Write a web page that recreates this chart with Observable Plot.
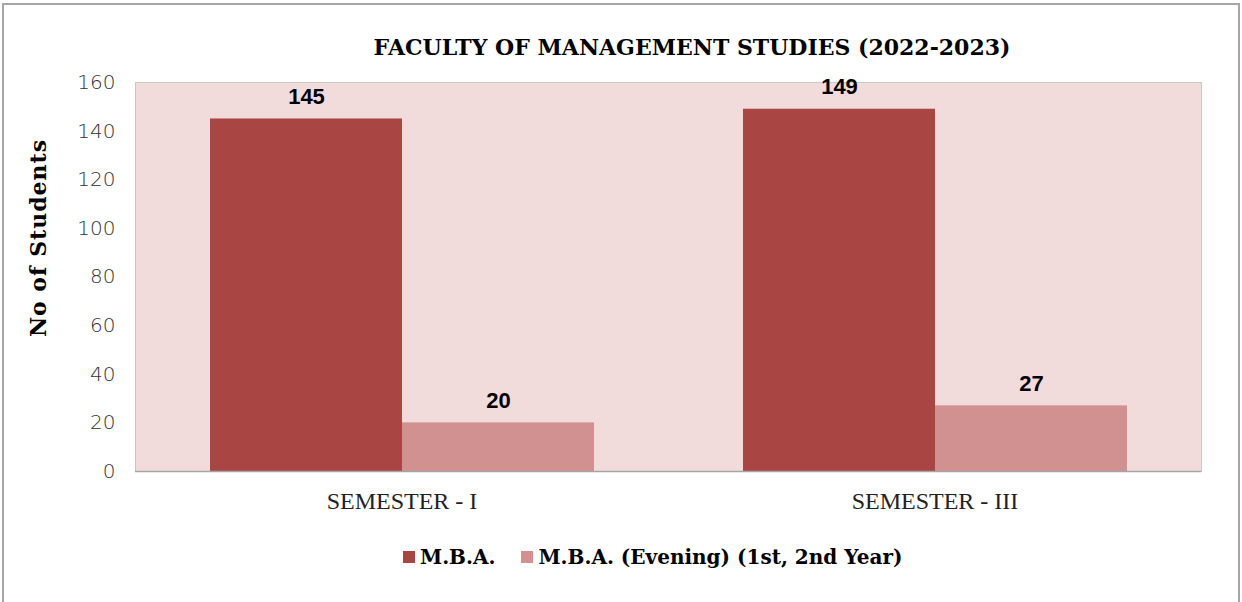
<!DOCTYPE html>
<html>
<head>
<meta charset="utf-8">
<script src="https://cdn.jsdelivr.net/npm/d3@7"></script>
<script src="https://cdn.jsdelivr.net/npm/@observablehq/plot@0.6"></script>
<style>
  html, body { margin: 0; padding: 0; background: #fff; }
  body { width: 1242px; height: 602px; overflow: hidden; position: relative; }
  #frame { position: absolute; left: 2px; top: 3px; width: 1238px; height: 660px; border: 2px solid #a6a6a6; box-sizing: border-box; }
  #wrap { position: absolute; left: 0; top: 0; width: 1242px; }
  #title { position: relative; height: 70px; }
  #title span { position: absolute; left: 692px; transform: translateX(-50%); white-space: nowrap;
    font: bold 22px "DejaVu Serif", serif; line-height: 22px; color: #000; top: 36px; }
  #ylabel { position: absolute; left: 38px; top: 238px; transform: translate(-50%, -50%) rotate(-90deg);
    white-space: nowrap; font: bold 22px "DejaVu Serif", serif; letter-spacing: 1px; line-height: 22px; color: #000; }
  #legend { position: relative; box-sizing: border-box; padding-top: 17px; padding-left: 403px;
    display: flex; align-items: center; font: bold 20px "DejaVu Serif", serif; line-height: 20px; }
  #legend .item { display: flex; align-items: center; margin-right: 26px; }
  #legend .sw { width: 12px; height: 12px; margin-right: 5px; }
  svg { display: block; }
</style>
</head>
<body>
<div id="frame"></div>
<div id="wrap">
  <div id="title"><span id="titleText"></span></div>
  <div id="chart"></div>
  <div id="legend"></div>
</div>
<div id="ylabel"></div>
<script>
const titleText = "FACULTY OF MANAGEMENT STUDIES (2022-2023)";
const yLabel = "No of Students";
const semesters = ["SEMESTER - I", "SEMESTER - III"];
const series = ["M.B.A.", "M.B.A. (Evening) (1st, 2nd Year)"];
const mbaValues = [145, 149];
const eveningValues = [20, 27];
const colors = ["#a94644", "#d19190"];
const yTicks = [0, 20, 40, 60, 80, 100, 120, 140, 160];

const data = [];
semesters.forEach((s, i) => {
  data.push({semester: s, series: series[0], value: mbaValues[i]});
  data.push({semester: s, series: series[1], value: eveningValues[i]});
});

document.getElementById("titleText").textContent = titleText;
document.getElementById("ylabel").textContent = yLabel;

const chart = Plot.plot({
  width: 1242,
  height: 460,
  marginTop: 12,
  marginBottom: 59,
  marginLeft: 135,
  marginRight: 41,
  style: {background: "transparent", overflow: "visible"},
  fx: {domain: semesters, paddingInner: 0, paddingOuter: 0, label: null},
  x: {domain: series, paddingInner: 0, paddingOuter: 0.381, axis: null},
  y: {domain: [0, 160], label: null},
  color: {domain: series, range: colors},
  marks: [
    Plot.frame({facet: "super", fill: "#f2dcdb", stroke: "#c8c8c8"}),
    Plot.barY(data, {fx: "semester", x: "series", y: "value", fill: "series"}),
    Plot.ruleY([0], {stroke: "#a6a6a6", strokeWidth: 1.5}),
    Plot.text(data, {fx: "semester", x: "series", y: "value", text: d => String(d.value), dy: -22,
      fontSize: 22, fontWeight: "bold", fontFamily: "Liberation Sans, Arial, sans-serif", fill: "#000"}),
    Plot.axisY({ticks: yTicks, tickSize: 0, tickPadding: 20, label: null, fontSize: 20,
      fontFamily: "DejaVu Sans, sans-serif", fontWeight: 200, fill: "#333"}),
    Plot.axisFx({anchor: "bottom", tickSize: 0, tickPadding: 20, label: null, fontSize: 24,
      fontFamily: "Liberation Serif, serif", fill: "#222"})
  ]
});
document.getElementById("chart").appendChild(chart);

const legend = document.getElementById("legend");
series.forEach((s, i) => {
  const item = document.createElement("div");
  item.className = "item";
  const sw = document.createElement("div");
  sw.className = "sw";
  sw.style.background = colors[i];
  const label = document.createElement("span");
  label.textContent = s;
  item.appendChild(sw);
  item.appendChild(label);
  legend.appendChild(item);
});
</script>
</body>
</html>
